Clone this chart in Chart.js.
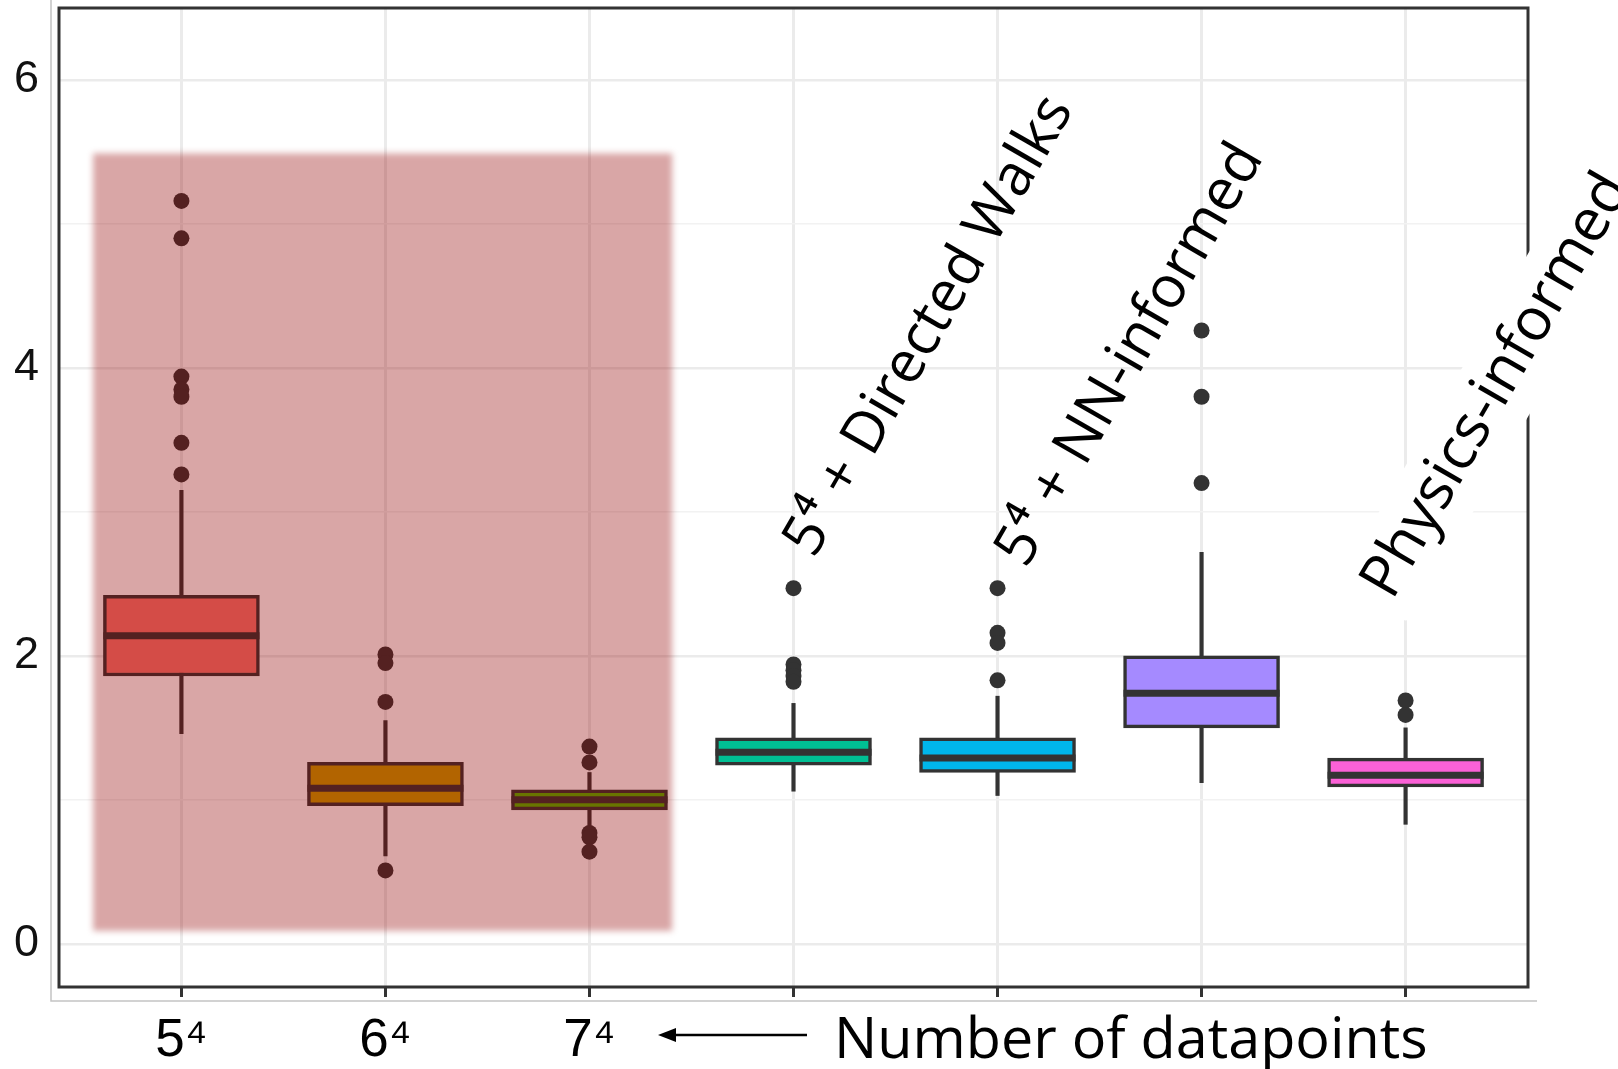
<!DOCTYPE html>
<html>
<head>
<meta charset="utf-8">
<script src="https://cdn.jsdelivr.net/npm/chart.js@4.4.1/dist/chart.umd.min.js"></script>
<style>
  html, body { margin: 0; padding: 0; background: #ffffff; }
  canvas { display: block; }
</style>
</head>
<body>
<canvas id="c" width="1618" height="1069"></canvas>
<script>
// ---------------- data ----------------
const xTickLabels = ['5⁴', '6⁴', '7⁴', '', '', '', ''];
const yTickValues = [0, 2, 4, 6];
const groupLabels = ['5⁴ + Directed Walks', '5⁴ + NN-informed', 'Physics-informed'];

const q1          = [1.86, 0.96, 0.93, 1.24, 1.19, 1.50, 1.09];
const medians     = [2.14, 1.08, 1.00, 1.33, 1.29, 1.74, 1.17];
const q3          = [2.42, 1.26, 1.07, 1.43, 1.43, 2.00, 1.29];
const whiskerLow  = [1.46, 0.61, 0.81, 1.06, 1.03, 1.12, 0.83];
const whiskerHigh = [3.15, 1.55, 1.19, 1.67, 1.72, 2.72, 1.50];
const outliers = [
  [5.16, 4.90, 3.94, 3.85, 3.80, 3.48, 3.26],
  [2.01, 1.95, 1.68, 0.51],
  [1.37, 1.26, 0.77, 0.74, 0.64],
  [2.47, 1.94, 1.90, 1.86, 1.82],
  [2.47, 2.16, 2.09, 1.83],
  [4.26, 3.80, 3.20],
  [1.69, 1.59]
];

// ---------------- styles ----------------
const fillColors = ['#F8766D', '#C49A00', '#53B400', '#00C094', '#00B6EB', '#A58AFF', '#FB61D7'];
const outlineColor = '#333333';
const labelFont = '"Open Sans", "DejaVu Sans", sans-serif';

const boxData = q1.map((v, i) => ({ x: i, y: [v, q3[i]] }));
const whiskerData = whiskerLow.map((v, i) => ({ x: i, y: [v, whiskerHigh[i]] }));
const medianData = medians.map((v, i) => ({ x: i, y: v }));
const outlierData = [];
outliers.forEach((arr, i) => arr.forEach(v => outlierData.push({ x: i, y: v })));

// annotation placement (data coordinates: category index, value) and text length in px
const labelPlacement = [
  { x: 3.10, y: 2.67, len: 520, box: false },
  { x: 4.14, y: 2.60, len: 476, box: false },
  { x: 5.935, y: 2.38, len: 478, box: true }
];
const highlight = { x0: -0.433, x1: 2.405, y0: 0.09, y1: 5.49 };

function zeroPad(s) { s.paddingLeft = 0; s.paddingRight = 0; s.paddingTop = 0; s.paddingBottom = 0; }

const decor = {
  id: 'decor',
  beforeDraw(chart) {
    const ctx = chart.ctx;
    ctx.save();
    ctx.strokeStyle = '#c4c4c4';
    ctx.lineWidth = 1.5;
    ctx.beginPath();
    ctx.moveTo(51, 0);
    ctx.lineTo(51, 1001);
    ctx.lineTo(1537, 1001);
    ctx.stroke();
    ctx.restore();
  },
  afterDatasetsDraw(chart) {
    const { ctx, chartArea: a, scales: { x, y } } = chart;
    // shaded highlight region
    ctx.save();
    ctx.filter = 'blur(3px)';
    ctx.fillStyle = 'rgba(147,0,0,0.35)';
    const hx0 = x.getPixelForValue(highlight.x0), hx1 = x.getPixelForValue(highlight.x1);
    const hy0 = y.getPixelForValue(highlight.y1), hy1 = y.getPixelForValue(highlight.y0);
    ctx.fillRect(hx0, hy0, hx1 - hx0, hy1 - hy0);
    ctx.restore();

    // panel border
    ctx.save();
    ctx.strokeStyle = '#333333';
    ctx.lineWidth = 3;
    ctx.strokeRect(a.left, a.top, a.right - a.left, a.bottom - a.top);
    ctx.restore();

    // rotated group labels
    groupLabels.forEach((txt, k) => {
      const p = labelPlacement[k];
      const px = x.getPixelForValue(p.x), py = y.getPixelForValue(p.y);
      ctx.save();
      ctx.font = '60px ' + labelFont;
      const size = 60 * p.len / ctx.measureText(txt).width;
      ctx.translate(px, py);
      ctx.rotate(-60 * Math.PI / 180);
      ctx.font = size.toFixed(1) + 'px ' + labelFont;
      const w = ctx.measureText(txt).width;
      if (p.box) {
        const pad = 11, asc = size * 0.76, desc = size * 0.24;
        ctx.fillStyle = '#ffffff';
        ctx.beginPath();
        if (ctx.roundRect) ctx.roundRect(-pad, -asc - pad, w + 2 * pad, asc + desc + 2 * pad, 8);
        else ctx.rect(-pad, -asc - pad, w + 2 * pad, asc + desc + 2 * pad);
        ctx.fill();
      }
      ctx.fillStyle = '#000000';
      ctx.textBaseline = 'alphabetic';
      ctx.textAlign = 'left';
      ctx.fillText(txt, 0, 0);
      ctx.restore();
    });
  },
  afterDraw(chart) {
    const ctx = chart.ctx;
    // arrow
    ctx.save();
    ctx.strokeStyle = '#000';
    ctx.fillStyle = '#000';
    ctx.lineWidth = 2.5;
    ctx.beginPath();
    ctx.moveTo(672, 1035);
    ctx.lineTo(807, 1035);
    ctx.stroke();
    ctx.beginPath();
    ctx.moveTo(658, 1035);
    ctx.lineTo(676, 1028);
    ctx.lineTo(676, 1042);
    ctx.closePath();
    ctx.fill();
    // axis caption
    const caption = 'Number of datapoints';
    let size = 54;
    ctx.font = size + 'px ' + labelFont;
    const mw = ctx.measureText(caption).width;
    size = size * 594 / mw;
    ctx.font = size.toFixed(1) + 'px ' + labelFont;
    ctx.textBaseline = 'alphabetic';
    ctx.textAlign = 'left';
    ctx.fillText(caption, 834, 1058);
    ctx.restore();
  }
};

new Chart(document.getElementById('c'), {
  type: 'bar',
  data: {
    datasets: [
      { type: 'scatter', label: 'outliers', data: outlierData, pointRadius: 8, pointBackgroundColor: outlineColor,
        pointBorderWidth: 0, pointHoverRadius: 8, order: 1 },
      { type: 'scatter', label: 'median', data: medianData, pointStyle: 'line', pointRadius: 78, pointHoverRadius: 78,
        pointBorderColor: outlineColor, pointBorderWidth: 7, order: 2 },
      { type: 'bar', label: 'box', data: boxData, backgroundColor: fillColors, borderColor: outlineColor,
        borderWidth: 3.5, borderSkipped: false, barThickness: 156, grouped: false, order: 3 },
      { type: 'bar', label: 'whisker', data: whiskerData, backgroundColor: outlineColor, borderWidth: 0,
        barThickness: 3.5, grouped: false, order: 4 }
    ]
  },
  options: {
    responsive: false,
    animation: false,
    events: [],
    layout: { autoPadding: false, padding: { top: 8, right: 90, left: 0, bottom: 0 } },
    plugins: { legend: { display: false }, tooltip: { enabled: false } },
    scales: {
      x: {
        type: 'linear', min: -0.6, max: 6.6, offset: false,
        afterFit: s => { s.height = 82; zeroPad(s); },
        grid: { offset: false, color: '#ebebeb', lineWidth: 3, drawTicks: true, tickLength: 10,
                tickColor: '#333333', tickWidth: 3 },
        border: { display: false },
        ticks: { stepSize: 1, includeBounds: false, autoSkip: false, maxRotation: 0, minRotation: 0,
                 padding: 13, color: '#000000',
                 font: { family: '"Liberation Sans", Arial, sans-serif', size: 53 },
                 callback: v => (xTickLabels[v] !== undefined ? xTickLabels[v] : '') }
      },
      y: {
        type: 'linear', min: -0.3, max: 6.5, beginAtZero: false,
        afterFit: s => { s.width = 59; zeroPad(s); },
        grid: {
          color: c => (c.tick && c.tick.value % 2 === 0 ? '#ebebeb' : '#f2f2f2'),
          lineWidth: c => (c.tick && c.tick.value % 2 === 0 ? 2.5 : 1.5),
          drawTicks: false
        },
        border: { display: false },
        ticks: { stepSize: 1, includeBounds: false, padding: 20, color: '#111111',
                 font: { family: '"Liberation Sans", Arial, sans-serif', size: 45 },
                 callback: v => (yTickValues.includes(v) ? String(v) : '') }
      }
    }
  },
  plugins: [decor]
});
</script>
</body>
</html>
